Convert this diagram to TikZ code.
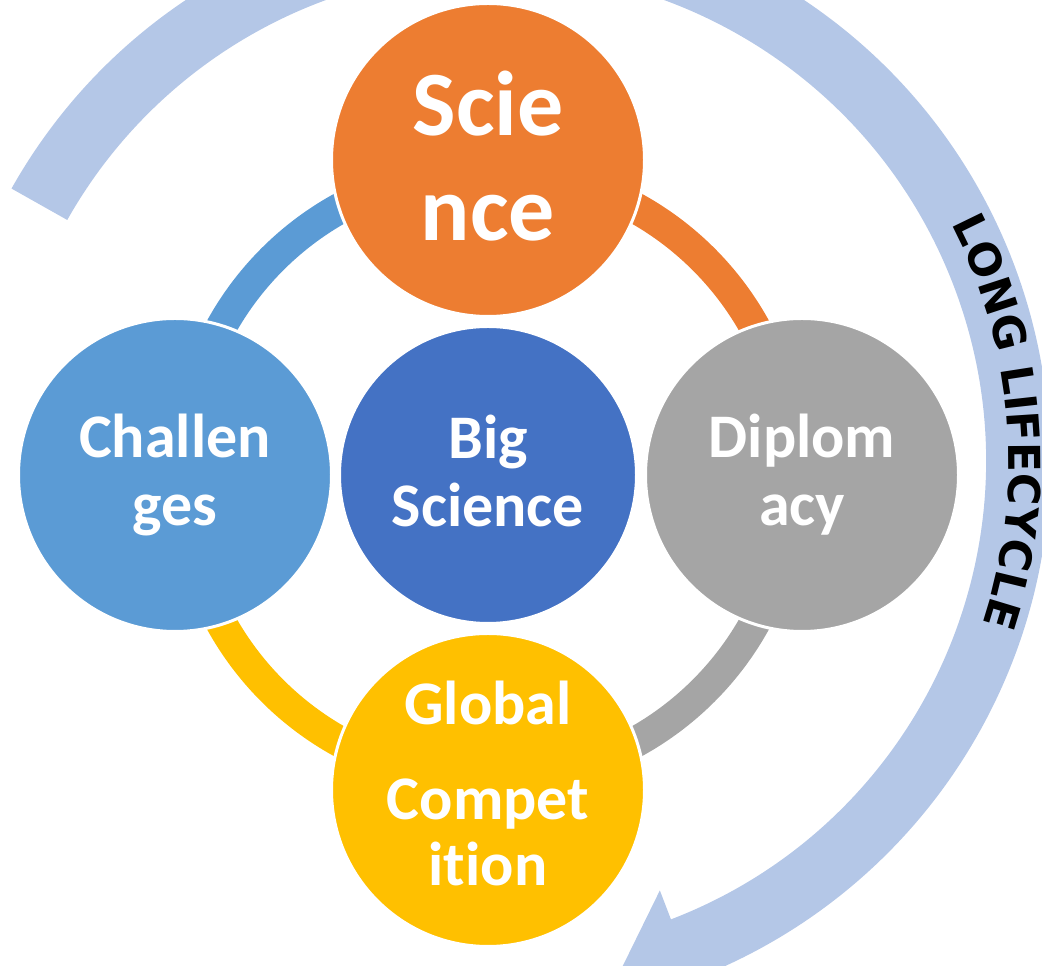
\documentclass[tikz,border=0pt]{standalone}
\usepackage{fontspec}
\setmainfont{Carlito}[Ligatures=NoCommon]
\newfontfamily\arcfont{DejaVu Sans}
\usetikzlibrary{calc,decorations.text}
\definecolor{sciorange}{HTML}{ED7D31}
\definecolor{chalblue}{HTML}{5B9BD5}
\definecolor{hubblue}{HTML}{4472C4}
\definecolor{diplgray}{HTML}{A5A5A5}
\definecolor{globgold}{HTML}{FFC000}
\definecolor{cyclecol}{HTML}{B4C7E7}

\begin{document}
\begin{tikzpicture}[x=1pt,y=1pt,
  bubble/.style={circle, draw=white, line width=3pt, minimum size=313pt, inner sep=0pt},
  ringarc/.style={line width=31pt},
  bigtxt/.style={text=white, font=\bfseries\fontsize{92}{100}\selectfont, anchor=base, inner sep=0pt},
  smalltxt/.style={text=white, font=\bfseries\fontsize{62}{68}\selectfont, anchor=base, inner sep=0pt}]
\useasboundingbox (0,0) rectangle (1042,966);
\clip (0,0) rectangle (1042,966);

% centres of the cycle arrow and of the hub
\coordinate (O) at (495,505);
\coordinate (hubc) at (488,491);

% big circular arrow around everything
\fill[cyclecol] ($(O)+(150.6:555)$) arc[start angle=150.6, end angle=-69, radius=555]
  -- ($(O)+(-69:588)$) -- ($(O)+(-76:523)$) -- ($(O)+(-69:460)$)
  -- ($(O)+(-69:491)$) arc[start angle=-69, end angle=150.6, radius=491] -- cycle;

% label running along the arrow
\path[decorate, decoration={text along path, text align=center,
  text={|\arcfont\bfseries\fontsize{44}{44}\selectfont|LONG LIFECYCLE}}]
  ($(O)+(44:514)$) arc[start angle=44, end angle=-35, radius=514];

% coloured ring linking the four outer bubbles
\draw[ringarc, sciorange] ($(hubc)+(90:305)$) arc[start angle=90, end angle=0, radius=305];
\draw[ringarc, diplgray] ($(hubc)+(0:305)$) arc[start angle=0, end angle=-90, radius=305];
\draw[ringarc, globgold] ($(hubc)+(-90:305)$) arc[start angle=-90, end angle=-180, radius=305];
\draw[ringarc, chalblue] ($(hubc)+(180:305)$) arc[start angle=180, end angle=90, radius=305];

% bubbles
\node[bubble, fill=hubblue, minimum size=297pt] (hub) at (hubc) {};
\node[bubble, fill=sciorange] (science) at (488,806) {};
\node[bubble, fill=chalblue] (challenges) at (175,491) {};
\node[bubble, fill=diplgray] (diplomacy) at (802,491) {};
\node[bubble, fill=globgold] (global) at (488,176) {};

% bubble texts
\node[bigtxt] (sci1) at ($(science)+(0,24)$) {Scie};
\node[bigtxt] (sci2) at ($(science)+(0,-81)$) {nce};
\node[smalltxt] (chal1) at ($(challenges)+(0,17)$) {Challen};
\node[smalltxt] (chal2) at ($(challenges)+(0,-51)$) {ges};
\node[smalltxt] (hub1) at ($(hub)+(0,16)$) {Big};
\node[smalltxt] (hub2) at ($(hub)+(0,-52)$) {Science};
\node[smalltxt] (dip1) at ($(diplomacy)+(0,17)$) {Diplom};
\node[smalltxt] (dip2) at ($(diplomacy)+(0,-51)$) {acy};
\node[smalltxt] (glob1) at ($(global)+(0,65)$) {Global};
\node[smalltxt] (glob2) at ($(global)+(0,-30)$) {Compet};
\node[smalltxt] (glob3) at ($(global)+(0,-96)$) {ition};
\end{tikzpicture}
\end{document}
